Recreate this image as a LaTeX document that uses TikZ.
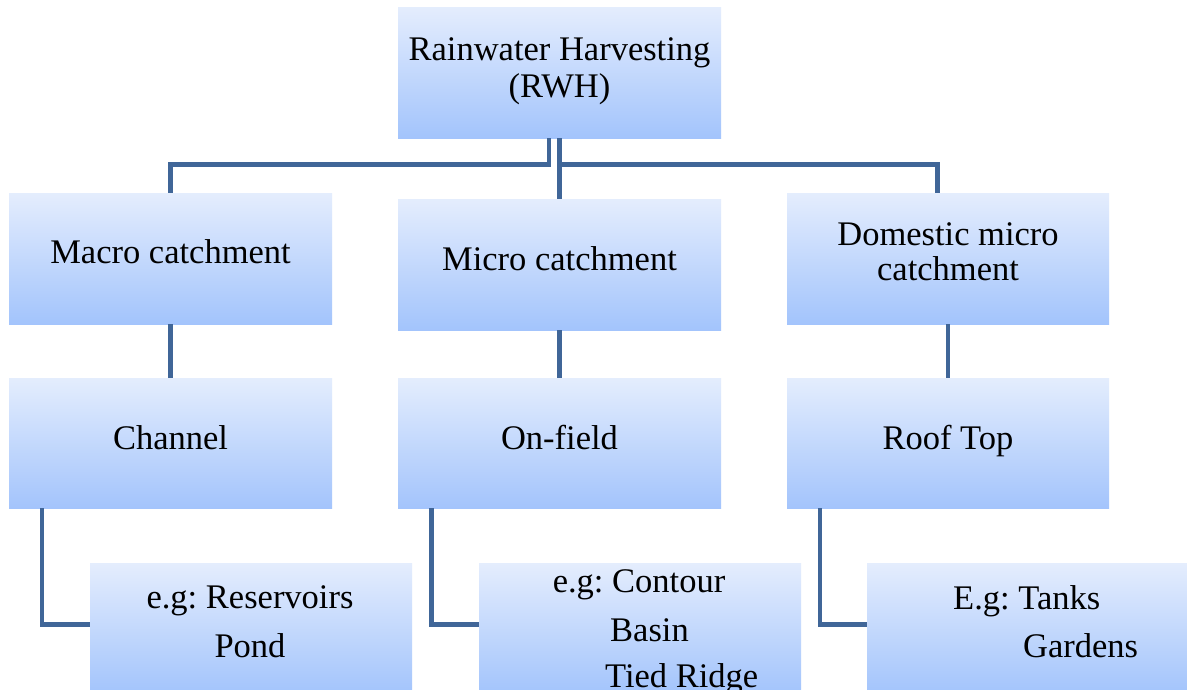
\documentclass[tikz,border=0pt]{standalone}
\usepackage{fontspec}
\setmainfont{Liberation Serif}
\frenchspacing
\definecolor{boxtop}{RGB}{228,237,253}
\definecolor{boxbot}{RGB}{163,196,252}
\definecolor{linkblue}{RGB}{64,102,152}
\begin{document}
\begin{tikzpicture}[x=1pt,y=-1pt,
  box/.style={rectangle, inner sep=0pt, draw=none, top color=boxtop, bottom color=boxbot},
  conn/.style={draw=linkblue, line width=4.5pt, line join=miter},
  lbl/.style={font=\fontsize{34.5}{37}\selectfont, inner sep=0pt, anchor=base}]
\useasboundingbox (0,0) rectangle (1187,689);
\clip (0,0) rectangle (1187,689);
\fill[white] (0,0) rectangle (1187,689);

% boxes
\node[box, minimum width=323pt, minimum height=131pt] (rwh)   at (559.5,72.5)  {};
\node[box, minimum width=323pt, minimum height=131pt] (macro) at (170.5,258.5) {};
\node[box, minimum width=323pt, minimum height=131pt] (micro) at (559.5,264.5) {};
\node[box, minimum width=322pt, minimum height=131pt] (dom)   at (948,258.5)   {};
\node[box, minimum width=323pt, minimum height=130pt] (chan)  at (170.5,443)   {};
\node[box, minimum width=323pt, minimum height=130pt] (onf)   at (559.5,443)   {};
\node[box, minimum width=322pt, minimum height=130pt] (roof)  at (948,443)     {};
\node[box, minimum width=322pt, minimum height=131pt] (res)   at (251,628.5)   {};
\node[box, minimum width=322pt, minimum height=131pt] (cont)  at (640,628.5)   {};
\node[box, minimum width=322pt, minimum height=131pt] (tank)  at (1028,628.5)  {};

% connectors
\coordinate (bus) at (0,164.5);
\draw[conn] ([xshift=-10.5pt]rwh.south) |- (bus -| macro.north) -- (macro.north);
\draw[conn] (rwh.south) -- (micro.north);
\draw[conn] (rwh.south |- bus) -| ([xshift=-10.5pt]dom.north);
\draw[conn] (macro.south) -- (chan.north);
\draw[conn] (micro.south) -- (onf.north);
\draw[conn] (dom.south) -- (roof.north);
\draw[conn] ([xshift=-128.5pt]chan.south) |- ([yshift=4pt]res.west);
\draw[conn] ([xshift=-128pt]onf.south) |- ([yshift=4pt]cont.west);
\draw[conn] ([xshift=-128pt]roof.south) |- ([yshift=4pt]tank.west);

% labels
\node[lbl] (t-rwh1) at (559.5,60) {Rainwater Harvesting};
\node[lbl] (t-rwh2) at (559.5,97) {(RWH)};
\node[lbl] (t-macro) at (170.5,263) {Macro catchment};
\node[lbl] (t-micro) at (559.5,270) {Micro catchment};
\node[lbl] (t-dom1) at (948,245) {Domestic micro};
\node[lbl] (t-dom2) at (948,280) {catchment};
\node[lbl] (t-chan) at (170.5,449) {Channel};
\node[lbl] (t-onf) at (559.5,449) {On-field};
\node[lbl] (t-roof) at (948,449) {Roof Top};
\node[lbl] (t-res1) at (250,608) {e.g: Reservoirs};
\node[lbl] (t-res2) at (250,657) {Pond};
\node[lbl] (t-cont1) at (639,592) {e.g: Contour};
\node[lbl, anchor=base west] (t-cont2) at (610,641) {Basin};
\node[lbl, anchor=base west] (t-cont3) at (605,687) {Tied Ridge};
\node[lbl, anchor=base west] (t-tank1) at (953,609) {E.g: Tanks};
\node[lbl, anchor=base west] (t-tank2) at (1023,657) {Gardens};
\end{tikzpicture}
\end{document}
